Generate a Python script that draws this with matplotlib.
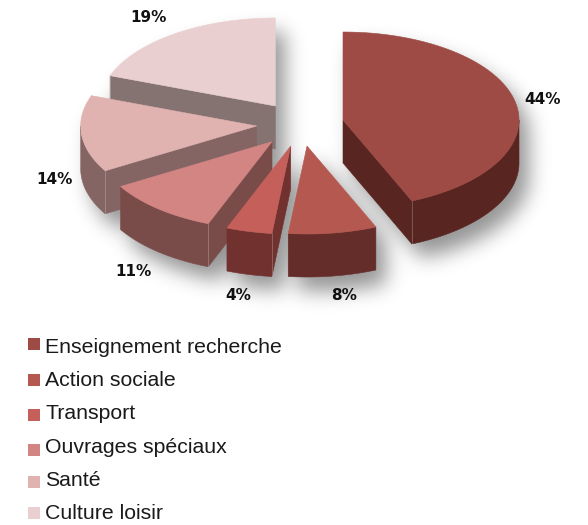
import numpy as np
import matplotlib
matplotlib.use("Agg")
import matplotlib.pyplot as plt
from matplotlib.path import Path

categories = ["Enseignement recherche", "Action sociale", "Transport",
              "Ouvrages spéciaux", "Santé", "Culture loisir"]
values = [43.6, 8.1, 4.2, 10.6, 14.1, 19.4]

top_colors = ["#9e4b45", "#b55850", "#c55f59", "#d38583", "#e0b2b0", "#eacfd0"]
side_colors = ["#582520", "#652d2a", "#71322f", "#7a4c49", "#846564", "#857371"]
apexes = [(343, 120), (307, 146), (290.7, 146), (272, 141.7), (256.7, 126), (275.3, 106)]
label_pos = [(543, 99), (344, 296), (238, 295), (133, 271), (54, 180), (149, 18)]
legend_y = [344, 380, 415, 450, 482, 513]
legend_baseline = [352.7, 386, 419.3, 452.7, 486, 519]

RX, RY, DEPTH = 176, 88, 43
W, H = 588, 525

fig = plt.figure(figsize=(W / 100, H / 100), dpi=100)
ax = fig.add_axes([0, 0, 1, 1])
ax.set_xlim(0, W)
ax.set_ylim(H, 0)
ax.axis("off")


def arc(apex, a, b, dy=0):
    t = np.radians(np.linspace(a, b, max(int(abs(b - a)) * 2, 2)))
    return np.column_stack([apex[0] + RX * np.sin(t), apex[1] + dy - RY * np.cos(t)])


cum = np.concatenate([[0], np.cumsum(values)])
angles = cum / cum[-1] * 360

# soft shadow computed from the wedge silhouettes
yy, xx = np.mgrid[0:H, 0:W]
pts = np.column_stack([xx.ravel() + 0.5, yy.ravel() + 0.5])
mask = np.zeros(H * W, dtype=bool)
SHX, SHY = 10, 14
for i, apex in enumerate(apexes):
    a, b = angles[i], angles[i + 1]
    top = np.vstack([[apex], arc(apex, a, b)])
    low = top + [0, DEPTH]
    for poly in (top, low):
        mask |= Path(poly + [SHX, SHY]).contains_points(pts)
    if a < 270 and b > 90:
        m = arc(apex, max(a, 90), min(b, 270))
        mask |= Path(np.vstack([m, (m + [0, DEPTH])[::-1]]) + [SHX, SHY]).contains_points(pts)
    for ang in (a, b):
        e = arc(apex, ang, ang + 1e-6)[0]
        mask |= Path(np.array([apex, e, (e[0], e[1] + DEPTH), (apex[0], apex[1] + DEPTH)])
                     + [SHX, SHY]).contains_points(pts)
img = mask.reshape(H, W).astype(float)
sigma = 10
k = np.exp(-0.5 * (np.arange(-32, 33) / sigma) ** 2)
k /= k.sum()
img = np.apply_along_axis(lambda r: np.convolve(r, k, mode="same"), 0, img)
img = np.apply_along_axis(lambda r: np.convolve(r, k, mode="same"), 1, img)
rgba = np.zeros((H, W, 4))
rgba[..., 3] = img * 0.42
ax.imshow(rgba, extent=(0, W, H, 0), interpolation="bilinear", zorder=0, aspect="auto")
ax.set_xlim(0, W)
ax.set_ylim(H, 0)

z = 1
for i in [5, 4, 3, 2, 1, 0]:
    apex = apexes[i]
    a, b = angles[i], angles[i + 1]
    side = side_colors[i]
    # cut faces turned to the viewer
    for ang, normal in ((a, a - 90), (b, b + 90)):
        if np.cos(np.radians(normal)) < -1e-6:
            e = arc(apex, ang, ang + 1e-6)[0]
            face = np.array([apex, e, (e[0], e[1] + DEPTH), (apex[0], apex[1] + DEPTH)])
            ax.fill(face[:, 0], face[:, 1], fc=side, ec=side, lw=0.4, zorder=z)
            ax.plot([e[0], e[0]], [e[1], e[1] + DEPTH], color="white", alpha=0.22,
                    lw=0.7, zorder=z + 0.4)
    # outer rim
    lo, hi = max(a, 90), min(b, 270)
    if lo < hi:
        rim = arc(apex, lo, hi)
        poly = np.vstack([rim, (rim + [0, DEPTH])[::-1]])
        ax.fill(poly[:, 0], poly[:, 1], fc=side, ec=side, lw=0.4, zorder=z)
    top = np.vstack([[apex], arc(apex, a, b)])
    ax.fill(top[:, 0], top[:, 1], fc=top_colors[i], ec=top_colors[i], lw=0.4, zorder=z + 0.5)
    z += 1

for v, (x, y) in zip(values, label_pos):
    ax.text(x, y, f"{round(v)}%", ha="center", va="center", fontsize=11,
            fontweight="bold", family="DejaVu Sans", color="#111111", zorder=20)

for name, c, ys, yt in zip(categories, top_colors, legend_y, legend_baseline):
    ax.scatter([34], [ys], marker="s", s=86, color=c, linewidths=0, zorder=20)
    ax.text(45, yt, name, ha="left", va="baseline", fontsize=15.35,
            family="Liberation Sans", color="#1a1a1a", zorder=20)

fig.savefig("out.png", dpi=100, facecolor="white")
